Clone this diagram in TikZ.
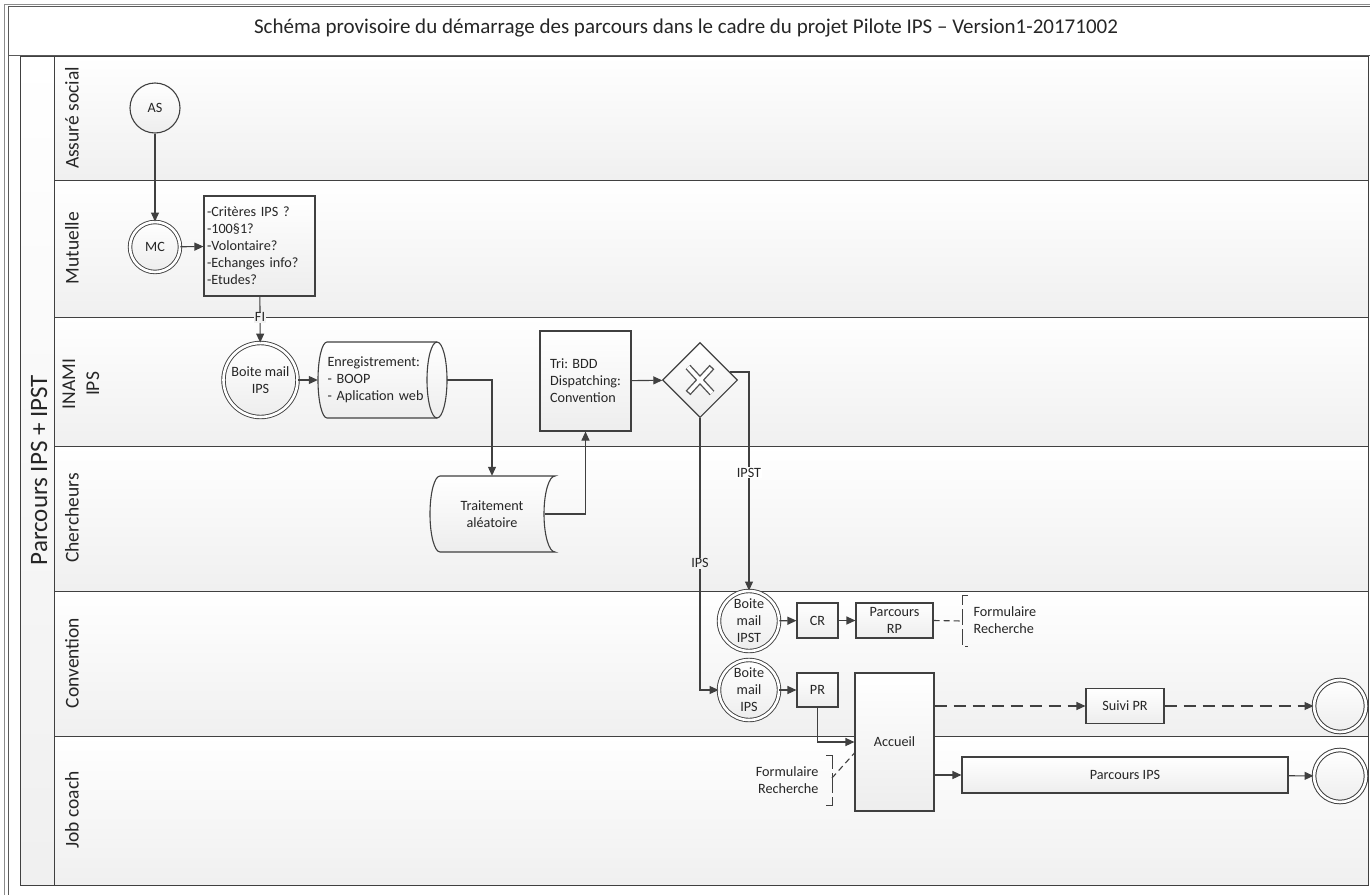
\documentclass[tikz,border=0pt]{standalone}
\usepackage{fontspec}
\setmainfont{Carlito}
\usetikzlibrary{shapes.geometric,arrows.meta,calc}
\definecolor{ln}{HTML}{404040}
\begin{document}
\begin{tikzpicture}[x=1pt,y=-1pt,
  line/.style={draw=ln, line width=1.1pt},
  arr/.style={line, -{Triangle[length=9pt,width=8pt]}},
  dasharr/.style={arr, dash pattern=on 12pt off 7pt},
  assoc/.style={line, dash pattern=on 6pt off 4pt},
  nfont/.style={font=\fontsize{14.2}{17}\selectfont, text=black!85},
  task/.style={draw=ln, line width=1.1pt, top color=white, bottom color=black!7, nfont, inner sep=2pt, align=center},
  evt/.style={circle, draw=ln, line width=1.1pt, top color=white, bottom color=black!7, nfont, inner sep=0pt, align=center},
  devt/.style={evt, double=white, double distance=2.6pt, line width=0.9pt},
  lane/.style={draw=ln, line width=1pt, top color=white, bottom color=black!6},
  lanelbl/.style={rotate=90, font=\fontsize{19.5}{24}\selectfont, text=black!85, align=center},
  flbl/.style={nfont, inner sep=1pt}
]
\useasboundingbox (0,0) rectangle (1370,894);
\fill[white] (0,0) rectangle (1370,894);
% outer frame
\draw[black!45, line width=1pt] (4,900) -- (4,4) -- (1380,4);
\draw[black!65, line width=1pt] (8,900) -- (8,6.5) -- (1380,6.5);
\draw[black!65, line width=1pt] (8,55.5) -- (1380,55.5);
\node[text=black!85] (title) at (686,28) {\fontsize{21}{24}\selectfont Schéma provisoire du démarrage des parcours dans le cadre du projet Pilote IPS -- Version1-20171002};
% pool and lanes
\path[lane] (20,56) rectangle (54,885);
\path[lane] (54,56) rectangle (1368,180);
\path[lane] (54,180) rectangle (1368,317);
\path[lane] (54,317) rectangle (1368,446);
\path[lane] (54,446) rectangle (1368,591);
\path[lane] (54,591) rectangle (1368,736);
\path[lane] (54,736) rectangle (1368,885);
\node[rotate=90, font=\fontsize{25}{28}\selectfont, text=black!85] (pool) at (39,470) {Parcours IPS + IPST};
\node[lanelbl] (l1) at (72,118) {Assuré social};
\node[lanelbl] (l2) at (72,248) {Mutuelle};
\node[lanelbl] (l3) at (81,384) {INAMI\\IPS};
\node[lanelbl] (l4) at (72,518) {Chercheurs};
\node[lanelbl] (l5) at (72,663) {Convention};
\node[lanelbl] (l6) at (72,810) {Job coach};

% nodes
\node[evt, minimum size=50pt] (as) at (155,108) {AS};
\node[devt, minimum size=50pt] (mc) at (155,247) {MC};
\node[task, text width=105pt, align=left, inner sep=3pt, minimum height=100pt] (crit) at (259.5,246)
  {-Critères IPS ?\\-100§1?\\-Volontaire?\\-Echanges info?\\-Etudes?};
\node[devt, minimum size=74pt] (bm1) at (260.5,380) {Boite mail\\IPS};
% Enregistrement (storage shape)
\path[draw=ln, line width=1.1pt, top color=white, bottom color=black!7]
  (327,342) -- (437,342) arc[start angle=-90, end angle=90, x radius=10, y radius=38]
  -- (327,418) arc[start angle=90, end angle=270, x radius=9, y radius=38] -- cycle;
\draw[ln, line width=1.1pt] (437,342) arc[start angle=-90, end angle=-270, x radius=10, y radius=38];
\node[nfont, text width=110pt, align=left, inner xsep=9.5pt, inner ysep=0pt, minimum height=76pt] (enr) at (382.5,380)
  {Enregistrement:\\- BOOP\\- Aplication web};
% Traitement aleatoire (stored data shape)
\path[draw=ln, line width=1.1pt, top color=white, bottom color=black!7]
  (440,476) -- (555,476) arc[start angle=-90, end angle=-270, x radius=11, y radius=38]
  -- (440,552) arc[start angle=90, end angle=270, x radius=10, y radius=38] -- cycle;
\node[nfont, align=center, minimum width=106pt, minimum height=76pt, inner sep=0pt] (trt) at (492,514) {Traitement\\aléatoire};
\node[task, align=left, minimum width=91pt, minimum height=100pt] (tri) at (585.5,381) {Tri: BDD\\Dispatching:\\Convention};
\node[diamond, draw=ln, line width=1.1pt, top color=white, bottom color=black!7, minimum width=75pt, minimum height=75pt, inner sep=0pt] (gw) at (700,380) {};
\draw[ln!90, line width=6.5pt, line cap=butt] (688,367) -- (712,393) (712,367) -- (688,393);
\draw[white, line width=3.8pt, line cap=butt, shorten <=1.4pt, shorten >=1.4pt] (688,367) -- (712,393) (712,367) -- (688,393);

\node[devt, minimum size=60pt] (bm2) at (749,621) {Boite\\mail\\IPST};
\node[devt, minimum size=60pt] (bm3) at (749,690) {Boite\\mail\\IPS};
\node[task, minimum width=41pt, minimum height=35pt] (cr) at (817.5,620.5) {CR};
\node[task, minimum width=77pt, minimum height=35pt] (rp) at (894.5,620.5) {Parcours\\RP};
\node[task, minimum width=41pt, minimum height=34pt] (pr) at (817.5,690) {PR};
\node[task, minimum width=79pt, minimum height=138pt] (acc) at (894.5,742) {Accueil};
\node[task, minimum width=78pt, minimum height=35pt] (suivi) at (1125,706) {Suivi PR};
\node[task, minimum width=326pt, minimum height=36pt] (pips) at (1125,775) {Parcours IPS};
\node[devt, minimum size=52pt, line width=1pt] (end1) at (1340,706) {};
\node[devt, minimum size=52pt, line width=1pt] (end2) at (1340,776) {};

% annotations
\coordinate (br1) at (962,621);
\draw[line, line width=1pt, dash pattern=on 16pt off 4pt] (968,595) -- (962,595) -- (962,646) -- (968,646);
\node[nfont, align=left, anchor=west] (ann1) at (970,620) {Formulaire\\Recherche};
\coordinate (br2) at (832,778);
\draw[line, line width=1pt, dash pattern=on 20pt off 4pt] (826,755) -- (832,755) -- (832,805) -- (826,805);
\node[nfont, align=right, anchor=east] (ann2) at (822,780) {Formulaire\\Recherche};

% connectors
\draw[arr] (as) -- (mc);
\draw[arr] (mc) -- (crit);
\draw[arr] (crit) -- (bm1) node[pos=0.45, flbl, fill=black!5] {FI};
\draw[arr] (bm1) -- (enr);
\draw[arr] (enr.east) -| (trt.north);
\draw[arr] (trt.east) -| (tri.south);
\draw[arr] (tri) -- (gw);
\draw[arr] (gw.15) -| (bm2.north) node[pos=0.73, flbl, fill=white] {IPST};
\draw[arr] (gw.south) |- (bm3.west) node[pos=0.267, flbl, fill=black!5] {IPS};
\draw[arr] (bm2) -- (cr);
\draw[arr] (cr) -- (rp);
\draw[assoc] (rp.east) -- (br1);
\draw[arr] (bm3) -- (pr);
\draw[arr] (pr.south) |- (acc.west);
\draw[assoc] (br2) -- (acc.west |- 0,753);
\draw[dasharr] (acc.east |- suivi.west) -- (suivi.west);
\draw[dasharr] (suivi) -- (end1);
\draw[arr] (acc.east |- pips.west) -- (pips.west);
\draw[arr] (pips) -- (end2);
\end{tikzpicture}
\end{document}
